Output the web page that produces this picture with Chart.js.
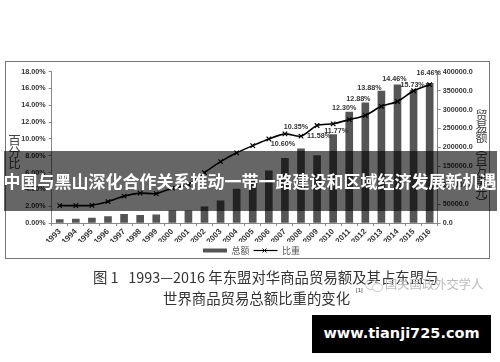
<!DOCTYPE html>
<html>
<head>
<meta charset="utf-8">
<script src="https://cdn.jsdelivr.net/npm/chart.js@4/dist/chart.umd.min.js"></script>
<style>
  html, body { margin: 0; padding: 0; background: #fff; }
  body { position: relative; width: 500px; height: 362px; overflow: hidden; font-family: "Noto Sans CJK SC", sans-serif; }
  #page { position: absolute; left: 0; top: 0; width: 500px; height: 362px; filter: blur(0.4px); }
  #frame { position: absolute; left: 5px; top: 61px; width: 483px; height: 196px; border: 1px solid #777; }
  #chart { position: absolute; left: 6px; top: 62px; }
  .vtitle { position: absolute; writing-mode: vertical-rl; color: #444; font-size: 12px; line-height: 14px; letter-spacing: -1px; }
  #ytitle { left: 7px; top: 134px; font-size: 12.5px; }
  #y2title { left: 474px; top: 109px; }
  #band { position: absolute; left: 4px; top: 151px; width: 493px; height: 60px; background: rgba(0,0,0,.6); }
  #headline { position: absolute; left: 0; top: 151px; width: 500px; height: 60px; line-height: 60px; text-align: center; color: #fff; font-size: 17px; font-weight: 700; white-space: nowrap; }
  .cap { position: absolute; color: #333; font-size: 14.4px; line-height: 20px; white-space: pre; }
  #cap1 { left: 93px; top: 267px; }
  #cap2 { left: 163px; top: 288px; }
  #ref { position: absolute; left: 356px; top: 286px; font-size: 6px; line-height: 8px; color: #444; font-family: "Liberation Sans", sans-serif; }
  #mark { position: absolute; left: 385px; top: 275px; font-size: 12.3px; line-height: 18px; color: #bbb; white-space: nowrap; }
  #icon1 { position: absolute; left: 365px; top: 279px; width: 11px; height: 9px; border: 1px solid #ccc; border-radius: 50%; }
  #icon2 { position: absolute; left: 372px; top: 283px; width: 9px; height: 7px; border: 1px solid #ccc; border-radius: 50%; background: #fff; }
  #site { position: absolute; left: 312px; top: 315px; width: 179px; height: 38px; line-height: 37px; background: #000; color: #fff; text-align: center; font-family: "DejaVu Sans", sans-serif; font-weight: 700; font-size: 14.5px; }
</style>
</head>
<body>
<div id="page">
  <div id="frame"></div>
  <canvas id="chart" width="483" height="196"></canvas>
  <div id="ytitle" class="vtitle">百分比</div>
  <div id="y2title" class="vtitle">贸易额（百万美元）</div>
  <div id="cap1" class="cap">图 1   1993—2016 年东盟对华商品贸易额及其占东盟与</div>
  <div id="cap2" class="cap">世界商品贸易总额比重的变化</div>
  <div id="ref">[1]</div>
  <div id="icon1"></div><div id="icon2"></div>
  <div id="mark">国关国政外交学人</div>
  <div id="band"></div>
  <div id="headline">中国与黑山深化合作关系推动一带一路建设和区域经济发展新机遇</div>
  <div id="site">www.tianji725.com</div>
</div>
<script>
  var years = ['1993','1994','1995','1996','1997','1998','1999','2000','2001','2002','2003','2004','2005','2006','2007','2008','2009','2010','2011','2012','2013','2014','2015','2016'];
  var totals = [8800,10600,13300,16800,23100,20500,21300,32000,32000,42600,58500,89700,117000,138000,171000,196000,178000,234000,293500,317500,349000,365000,351000,369000];
  var shares = [2.07,2.07,2.1,2.55,3.2,3.55,3.5,4.15,4.6,6.0,7.3,8.35,9.2,10.0,10.6,10.33,11.6,11.8,12.3,12.8,13.88,14.46,15.73,16.46];
  var leftTicks = ['0.00%','2.00%','4.00%','6.00%','8.00%','10.00%','12.00%','14.00%','16.00%','18.00%'];
  var rightTicks = ['0.0','50000.0','100000.0','150000.0','200000.0','250000.0','300000.0','350000.0','400000.0'];
  var seriesNames = ['总额','比重'];

  // printed labels, index into years -> text
  var pointLabels = {14:'10.60%',15:'10.35%',16:'11.58%',17:'11.77%',18:'12.30%',19:'12.88%',20:'13.88%',21:'14.46%',22:'15.73%',23:'16.46%'};
  // label offset from its point, px
  var labelOffsets = {14:[-2,10],15:[-5,-9],16:[2,11],17:[3,7],18:[-5,-12],19:[-7,-16],20:[-12,-18],21:[-3,-22],22:[-1,-6],23:[-1,-12]};

  var tickFont = {family:'"Liberation Sans"', size:7.2, weight:'bold'};
  var legendShift = 4;

  var pointLabelPlugin = {
    id: 'pointLabelPlugin',
    beforeDraw: function(chart) {
      // legend centre sits a little right of the canvas centre
      chart.legend.right += legendShift * 2;
    },
    afterDatasetsDraw: function(chart) {
      var ctx = chart.ctx;
      var pts = chart.getDatasetMeta(1).data;
      ctx.save();
      ctx.font = 'bold 7.2px "Liberation Sans"';
      ctx.fillStyle = '#333';
      ctx.textAlign = 'center';
      ctx.textBaseline = 'middle';
      Object.keys(pointLabels).forEach(function(i) {
        ctx.fillText(pointLabels[i], pts[i].x + labelOffsets[i][0], pts[i].y + labelOffsets[i][1]);
      });
      ctx.restore();
    },
    afterDraw: function(chart) {
      // small x on the legend line
      var box = chart.legend.legendHitBoxes[1];
      var ctx = chart.ctx;
      var cx = box.left + 11 + legendShift, cy = box.top + box.height / 2;
      ctx.save();
      ctx.strokeStyle = '#000';
      ctx.lineWidth = 1;
      ctx.beginPath();
      ctx.moveTo(cx - 2, cy - 2); ctx.lineTo(cx + 2, cy + 2);
      ctx.moveTo(cx - 2, cy + 2); ctx.lineTo(cx + 2, cy - 2);
      ctx.stroke();
      ctx.restore();
    }
  };

  new Chart(document.getElementById('chart'), {
    type: 'bar',
    data: {
      labels: years,
      datasets: [
        { type:'bar', label:seriesNames[0], data:totals, yAxisID:'y2', backgroundColor:'#555', barThickness:7, order:2 },
        { type:'line', label:seriesNames[1], data:shares, yAxisID:'y', borderColor:'#000', borderWidth:1.6, tension:0.25,
          pointStyle:'crossRot', pointRadius:3.2, pointBorderColor:'#000', pointBorderWidth:1.2, backgroundColor:'#000', order:1 }
      ]
    },
    options: {
      responsive: false,
      animation: false,
      layout: { padding: { top: 9.7, bottom: -7, left: 0, right: 0 } },
      plugins: {
        tooltip: { enabled: false },
        legend: {
          position: 'bottom',
          labels: {
            usePointStyle: true,
            pointStyleWidth: 24,
            boxHeight: 6,
            padding: 4,
            color: '#555',
            font: { family:'"Noto Sans CJK SC"', size:9 },
            generateLabels: function() {
              return [
                { text:seriesNames[0], pointStyle:'line', strokeStyle:'#555', lineWidth:4, fontColor:'#555', datasetIndex:0 },
                { text:seriesNames[1], pointStyle:'line', strokeStyle:'#000', lineWidth:1.2, fontColor:'#555', datasetIndex:1 }
              ];
            }
          }
        }
      },
      scales: {
        x: {
          grid: { drawOnChartArea:false, drawTicks:true, tickLength:3, color:'#888', offset:true },
          border: { color:'#888' },
          ticks: { color:'#333', font:{family:'"Liberation Sans"', size:8, weight:'bold'}, maxRotation:45, minRotation:45, padding:1, autoSkip:false },
          afterFit: function(s) { s.height = 19; }
        },
        y: {
          position:'left', min:0, max:18,
          grid: { drawOnChartArea:false, tickLength:3, color:'#888' },
          border: { color:'#888' },
          ticks: { stepSize:2, color:'#333', font:tickFont, padding:3,
            callback: function(v, i) { return leftTicks[i]; } },
          afterFit: function(s) { s.width = 45.7; }
        },
        y2: {
          position:'right', min:0, max:400000,
          grid: { drawOnChartArea:false, tickLength:3, color:'#888' },
          border: { color:'#888' },
          ticks: { stepSize:50000, color:'#333', font:tickFont, padding:2,
            callback: function(v, i) { return rightTicks[i]; } },
          afterFit: function(s) { s.width = 51.3; }
        }
      }
    },
    plugins: [pointLabelPlugin]
  });
</script>
</body>
</html>
